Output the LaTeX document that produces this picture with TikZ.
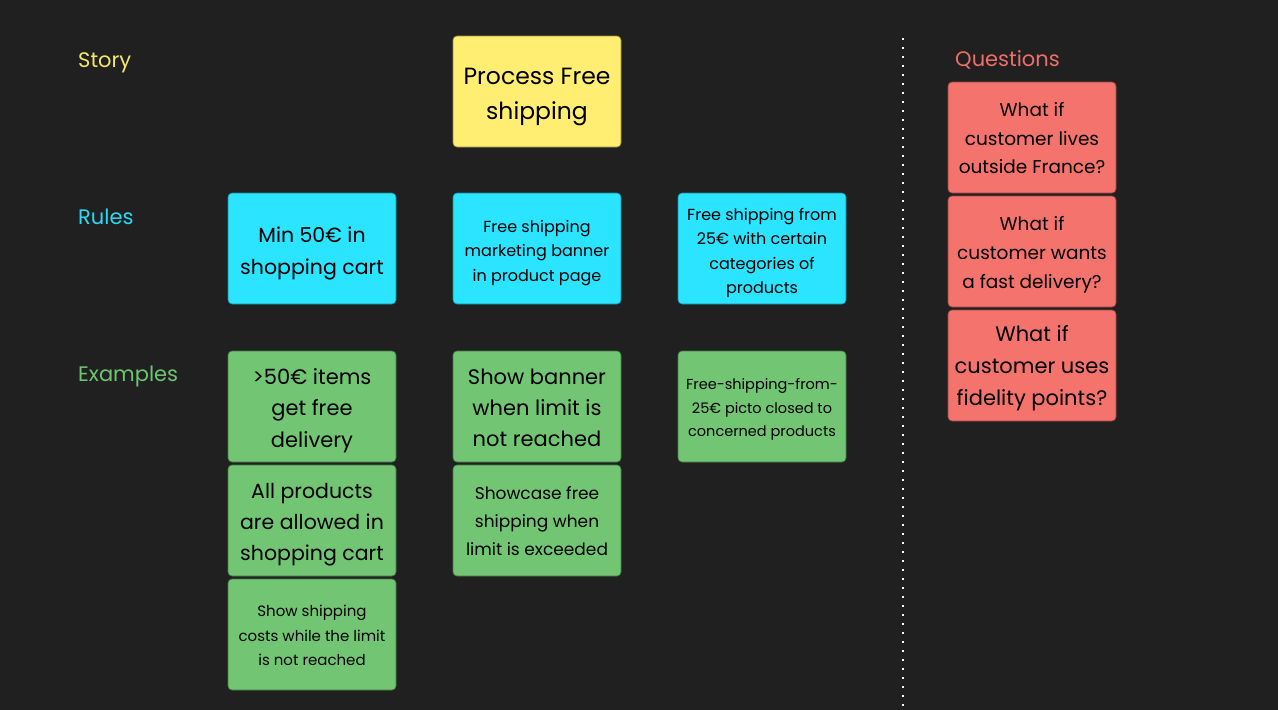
\documentclass[tikz,border=0pt]{standalone}
\usepackage{fontspec}
\setmainfont{Poppins}
\definecolor{bg}{HTML}{202020}
\definecolor{cyel}{HTML}{FFEE72}
\definecolor{ccyan}{HTML}{2BE4FF}
\definecolor{cgreen}{HTML}{72C673}
\definecolor{cred}{HTML}{F4736D}
\definecolor{lyel}{HTML}{F5E56E}
\definecolor{lcyan}{HTML}{2BD9F5}
\definecolor{lgreen}{HTML}{6EC46F}
\definecolor{lred}{HTML}{EE6E69}
\tikzset{
  card/.style={fill=#1, draw=black!40!#1, line width=0.6pt, rounded corners=4pt,
    minimum width=168pt, minimum height=111pt, inner sep=0pt},
  txt/.style={inner sep=0pt, align=center, text=black},
  lab/.style={anchor=base west, inner sep=0pt, font=\fontsize{21}{24}\selectfont, text=#1},
}
\begin{document}
\begin{tikzpicture}[x=1pt,y=-1pt]
\fill[bg] (0,0) rectangle (1278,710);
\useasboundingbox (0,0) rectangle (1278,710);

% labels
\node[lab=lyel] (lstory) at (78,67) {Story};
\node[lab=lcyan] (lrules) at (78,224) {Rules};
\node[lab=lgreen] (lex) at (78,381) {Examples};
\node[lab=lred] (lq) at (955,66) {Questions};

% story
\node[card=cyel] (story) at (537,91.5) {};
\node[txt, font=\fontsize{23.5}{35}\selectfont] (story-t) at ([yshift=-5pt]story.center) {Process Free\\shipping};

% rules
\node[card=ccyan] (r1) at (312,248.5) {};
\node[txt, font=\fontsize{20.5}{32}\selectfont] (r1-t) at ([yshift=-5pt]r1.center) {Min 50€ in\\shopping cart};
\node[card=ccyan] (r2) at (537,248.5) {};
\node[txt, font=\fontsize{16}{24.5}\selectfont] (r2-t) at ([yshift=-4.5pt]r2.center) {Free shipping\\marketing banner\\in product page};
\node[card=ccyan] (r3) at (762,248.5) {};
\node[txt, font=\fontsize{16}{24.5}\selectfont] (r3-t) at ([yshift=-4.5pt]r3.center) {Free shipping from\\25€ with certain\\categories of\\products};

% examples
\node[card=cgreen] (e11) at (312,406.5) {};
\node[txt, font=\fontsize{21}{31.5}\selectfont] (e11-t) at ([yshift=-4pt]e11.center) {>50€ items\\get free\\delivery};
\node[card=cgreen] (e12) at (312,520.5) {};
\node[txt, font=\fontsize{20.5}{31}\selectfont] (e12-t) at ([yshift=-4pt]e12.center) {All products\\are allowed in\\shopping cart};
\node[card=cgreen] (e13) at (312,634.5) {};
\node[txt, font=\fontsize{15}{24.5}\selectfont] (e13-t) at ([yshift=-1pt]e13.center) {Show shipping\\costs while the limit\\is not reached};
\node[card=cgreen] (e21) at (537,406.5) {};
\node[txt, font=\fontsize{21}{31}\selectfont] (e21-t) at ([yshift=-1.5pt]e21.center) {Show banner\\when limit is\\not reached};
\node[card=cgreen] (e22) at (537,520.5) {};
\node[txt, font=\fontsize{17}{28}\selectfont] (e22-t) at ([yshift=-1pt]e22.center) {Showcase free\\shipping when\\limit is exceeded};
\node[card=cgreen] (e31) at (762,406.5) {};
\node[txt, font=\fontsize{14.5}{23.5}\selectfont] (e31-t) at ([yshift=-3pt]e31.center) {Free-shipping-from-\\25€ picto closed to\\concerned products};

% questions
\node[card=cred] (q1) at (1032,137.5) {};
\node[txt, font=\fontsize{18.5}{28.5}\selectfont] (q1-t) at ([yshift=-1pt]q1.center) {What if\\customer lives\\outside France?};
\node[card=cred] (q2) at (1032,251.5) {};
\node[txt, font=\fontsize{18.5}{29}\selectfont] (q2-t) at ([yshift=-3pt]q2.center) {What if\\customer wants\\a fast delivery?};
\node[card=cred] (q3) at (1032,365.5) {};
\node[txt, font=\fontsize{21}{32}\selectfont] (q3-t) at ([yshift=-3pt]q3.center) {What if\\customer uses\\fidelity points?};

% separator
\coordinate (sepT) at (903,38);
\coordinate (sepB) at (903,712);
\draw[white, line width=2pt, dash pattern=on 2pt off 7pt] (sepT) -- (sepB);
\end{tikzpicture}
\end{document}
